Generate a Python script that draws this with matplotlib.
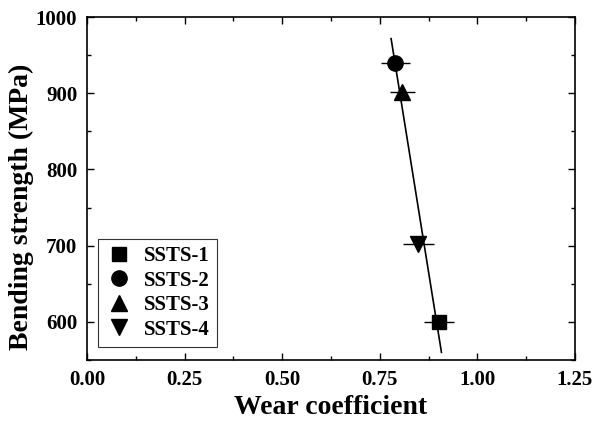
import numpy as np
import matplotlib.pyplot as plt
from matplotlib.ticker import MultipleLocator
from matplotlib.lines import Line2D

# Dữ liệu
labels = ['SSTS-1', 'SSTS-2', 'SSTS-3', 'SSTS-4']
markers = ['s', 'o', '^', 'v']
wear = [0.902, 0.790, 0.808, 0.849]
wear_err = [0.038, 0.038, 0.032, 0.040]
strength = [600, 940, 901, 702]
fit_range = [0.779, 0.908]

plt.rcParams['font.family'] = ['Liberation Serif', 'DejaVu Serif']
plt.rcParams['font.weight'] = 'bold'

fig = plt.figure(figsize=(5.93, 4.21), dpi=100)
ax = fig.add_axes([0.1467, 0.1449, 0.8229, 0.8147])

# Đường hồi quy tuyến tính
coef = np.polyfit(wear, strength, 1)
xf = np.array(fit_range)
ax.plot(xf, np.polyval(coef, xf), color='black', lw=1.2, zorder=2)

handles = []
for x, xe, y, m, lab in zip(wear, wear_err, strength, markers, labels):
    ms = 10 if m == 's' else 11
    ax.errorbar(x, y, xerr=xe, fmt=m, color='black', ms=ms,
                elinewidth=1.0, capsize=0, zorder=3)
    handles.append(Line2D([], [], ls='none', marker=m, color='black', ms=ms, label=lab))

ax.set_xlim(0, 1.25)
ax.set_ylim(550, 1000)
ax.xaxis.set_major_locator(MultipleLocator(0.25))
ax.xaxis.set_minor_locator(MultipleLocator(0.125))
ax.yaxis.set_major_locator(MultipleLocator(100))
ax.yaxis.set_minor_locator(MultipleLocator(50))
ax.tick_params(which='both', direction='in', top=True, right=True, width=1.0)
ax.tick_params(which='major', length=5, labelsize=15, pad=7)
ax.tick_params(which='minor', length=3)
ax.xaxis.set_major_formatter(plt.FuncFormatter(lambda v, p: f'{v:.2f}'))
for lab in ax.get_xticklabels() + ax.get_yticklabels():
    lab.set_fontweight('bold')
for s in ax.spines.values():
    s.set_linewidth(1.2)

ax.set_xlabel('Wear coefficient', fontsize=20, fontweight='bold', labelpad=4)
ax.set_ylabel('Bending strength (MPa)', fontsize=20, fontweight='bold')
ax.yaxis.set_label_coords(-0.108, 0.446)

leg = ax.legend(handles=handles, loc='lower left', bbox_to_anchor=(0.022, 0.038), fontsize=15,
                frameon=True, fancybox=False, edgecolor='black', handletextpad=0.55,
                borderpad=0.35, labelspacing=0.22, handlelength=1.3, borderaxespad=0)
leg.get_frame().set_linewidth(0.8)
for t in leg.get_texts():
    t.set_fontweight('bold')

plt.savefig('out.png', dpi=100)
